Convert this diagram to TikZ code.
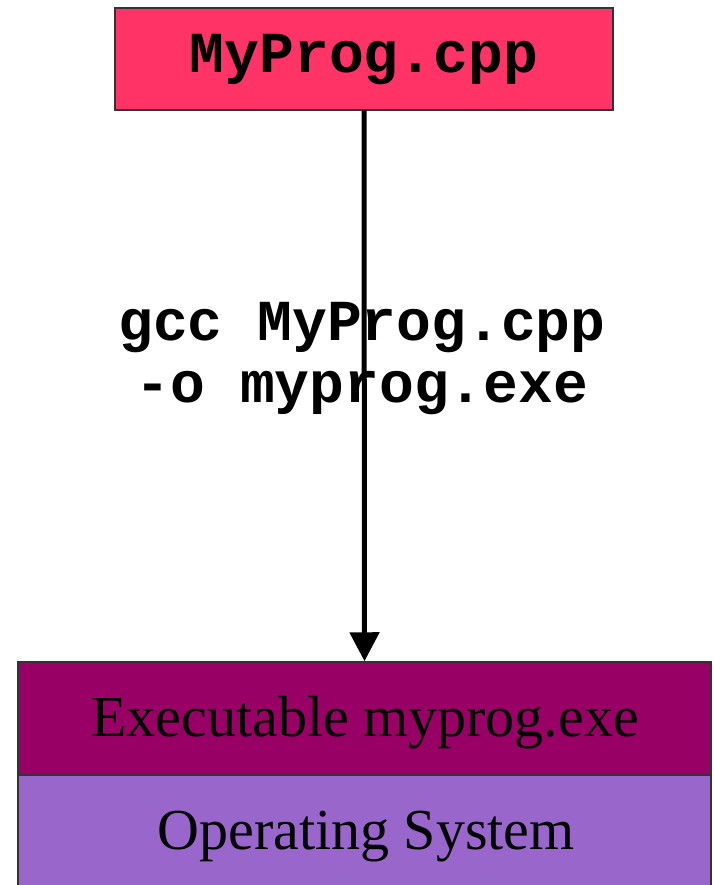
\documentclass[tikz,border=0pt]{standalone}
\usepackage{fontspec}
\setmainfont{Liberation Serif}
\newfontfamily\codefont{Liberation Mono}
\usetikzlibrary{arrows.meta}
\definecolor{srcred}{HTML}{FF3366}
\definecolor{exemag}{HTML}{990066}
\definecolor{ospurple}{HTML}{9966CC}
\definecolor{edgegray}{HTML}{333333}
\tikzset{
  box/.style={draw=edgegray, line width=1.5pt, inner sep=0pt, minimum width=#1},
  codetext/.style={font=\codefont\bfseries\fontsize{58}{62}\selectfont, text=black},
  serif/.style={font=\fontsize{58}{62}\selectfont, text=black},
  flow/.style={line width=5pt, -{Triangle[length=29pt,width=29pt]}}
}
\begin{document}
\begin{tikzpicture}[x=1pt,y=-1pt]
\useasboundingbox (0,0) rectangle (713,885);
\clip (0,0) rectangle (713,885);
% top source box
\node[box=498pt, fill=srcred, minimum height=102pt] (src) at (364,59) {};
\node[codetext, anchor=base] (srctxt) at (364,73) {MyProg.cpp};
% bottom stack
\node[box=693pt, fill=exemag, minimum height=113pt] (exe) at (364.5,718.5) {};
\node[box=693pt, fill=ospurple, minimum height=120pt] (os) at (364.5,835) {};
\node[serif, anchor=base] (exetxt) at (365,736) {Executable myprog.exe};
\node[serif, anchor=base] (ostxt) at (366,849) {Operating System};
% arrow
\draw[flow] (src.south) -- (exe.north);
% command label
\node[codetext, align=center, anchor=base, inner sep=0pt] (cmd) at (362,402) {gcc MyProg.cpp\\-o myprog.exe};
\end{tikzpicture}
\end{document}
